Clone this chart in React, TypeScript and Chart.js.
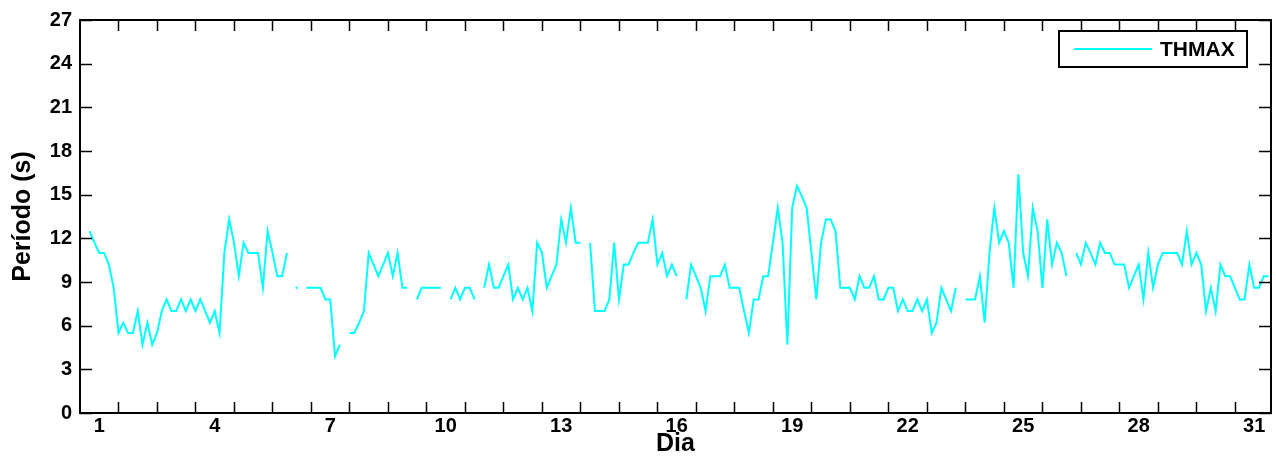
import React, { useEffect, useRef } from "react";
import { Chart, registerables } from "chart.js";

Chart.register(...registerables);

// Days of the month and 3-hourly observation hours
const DAYS = [1, 2, 3, 4, 5, 6, 7, 8, 9, 10, 11, 12, 13, 14, 15, 16, 17, 18, 19, 20, 21, 22, 23, 24, 25, 26, 27, 28, 29, 30, 31];
const HOURS = [0, 3, 6, 9, 12, 15, 18, 21];

// THMAX period (s), one row per day, one value per 3-hour slot (null = missing)
const THMAX: (number | null)[][] = [
  [10.2, null, 12.5, 11.7, 11.0, 11.0, 10.2, 8.6],
  [5.5, 6.2, 5.5, 5.5, 7.0, 4.7, 6.2, 4.7],
  [5.5, 7.0, 7.8, 7.0, 7.0, 7.8, 7.0, 7.8],
  [7.0, 7.8, 7.0, 6.2, 7.0, 5.5, 11.0, 13.3],
  [11.7, 9.4, 11.7, 11.0, 11.0, 11.0, 8.6, 12.5],
  [11.0, 9.4, 9.4, 11.0, null, 8.6, null, 8.6],
  [8.6, 8.6, 8.6, 7.8, 7.8, 3.9, 4.7, null],
  [5.5, 5.5, 6.2, 7.0, 11.0, 10.2, 9.4, 10.2],
  [11.0, 9.4, 11.0, 8.6, 8.6, null, 7.8, 8.6],
  [8.6, 8.6, 8.6, 8.6, null, 7.8, 8.6, 7.8],
  [8.6, 8.6, 7.8, null, 8.6, 10.2, 8.6, 8.6],
  [9.4, 10.2, 7.8, 8.6, 7.8, 8.6, 7.0, 11.7],
  [11.0, 8.6, 9.4, 10.2, 13.3, 11.7, 14.1, 11.7],
  [11.7, null, 11.7, 7.0, 7.0, 7.0, 7.8, 11.7],
  [7.8, 10.2, 10.2, 11.0, 11.7, 11.7, 11.7, 13.3],
  [10.2, 11.0, 9.4, 10.2, 9.4, null, 7.8, 10.2],
  [9.4, 8.6, 7.0, 9.4, 9.4, 9.4, 10.2, 8.6],
  [8.6, 8.6, 7.0, 5.5, 7.8, 7.8, 9.4, 9.4],
  [11.7, 14.1, 11.7, 4.7, 14.1, 15.6, 14.9, 14.1],
  [11.0, 7.8, 11.7, 13.3, 13.3, 12.5, 8.6, 8.6],
  [8.6, 7.8, 9.4, 8.6, 8.6, 9.4, 7.8, 7.8],
  [8.6, 8.6, 7.0, 7.8, 7.0, 7.0, 7.8, 7.0],
  [7.8, 5.5, 6.2, 8.6, 7.8, 7.0, 8.6, null],
  [7.8, 7.8, 7.8, 9.4, 6.2, 11.0, 14.1, 11.7],
  [12.5, 11.7, 8.6, 16.4, 11.0, 9.4, 14.1, 12.5],
  [8.6, 13.3, 10.2, 11.7, 11.0, 9.4, null, 11.0],
  [10.2, 11.7, 11.0, 10.2, 11.7, 11.0, 11.0, 10.2],
  [10.2, 10.2, 8.6, 9.4, 10.2, 7.8, 11.0, 8.6],
  [10.2, 11.0, 11.0, 11.0, 11.0, 10.2, 12.5, 10.2],
  [11.0, 10.2, 7.0, 8.6, 7.0, 10.2, 9.4, 9.4],
  [8.6, 7.8, 7.8, 10.2, 8.6, 8.6, 9.4, 9.4],
];

const X_TICKS = [1, 4, 7, 10, 13, 16, 19, 22, 25, 28, 31];
const Y_TICKS = [0, 3, 6, 9, 12, 15, 18, 21, 24, 27];
const SERIES_LABEL = "THMAX";
const X_TITLE = "Dia";
const Y_TITLE = "Período (s)";

const FONT_FAMILY = "'Liberation Sans', Arial, Helvetica, sans-serif";
const LINE_COLOR = "#00FFFF";

const matlabAxes = {
  id: "matlabAxes",
  afterDraw(chart: any) {
    const { ctx, chartArea } = chart;
    const { left, right, top, bottom } = chartArea;
    const xs = chart.scales.x;
    const ys = chart.scales.y;
    ctx.save();
    ctx.strokeStyle = "#000";
    ctx.lineWidth = 1.5;
    const tl = 11;
    // inward ticks at day boundaries (midnights)
    DAYS.forEach((d) => {
      const px = Math.round(xs.getPixelForValue(d - 0.5)) + 0.5;
      if (px > left + 2 && px < right - 2) {
        ctx.beginPath();
        ctx.moveTo(px, bottom);
        ctx.lineTo(px, bottom - tl);
        ctx.moveTo(px, top);
        ctx.lineTo(px, top + tl);
        ctx.stroke();
      }
    });
    Y_TICKS.forEach((v) => {
      const py = Math.round(ys.getPixelForValue(v)) + 0.5;
      ctx.beginPath();
      ctx.moveTo(left, py);
      ctx.lineTo(left + tl + 1, py);
      ctx.moveTo(right, py);
      ctx.lineTo(right - tl - 1, py);
      ctx.stroke();
    });
    // box
    ctx.lineWidth = 2;
    ctx.strokeRect(left, top, right - left, bottom - top);

    // legend
    const bx = right - 212;
    const by = top + 11;
    const bw = 188;
    const bh = 36;
    ctx.fillStyle = "#fff";
    ctx.fillRect(bx, by, bw, bh);
    ctx.lineWidth = 2;
    ctx.strokeStyle = "#000";
    ctx.strokeRect(bx, by, bw, bh);
    ctx.strokeStyle = LINE_COLOR;
    ctx.lineWidth = 2;
    ctx.beginPath();
    ctx.moveTo(bx + 15, by + 18);
    ctx.lineTo(bx + 93, by + 18);
    ctx.stroke();
    ctx.fillStyle = "#000";
    ctx.font = `bold 21px ${FONT_FAMILY}`;
    ctx.textBaseline = "middle";
    ctx.textAlign = "left";
    ctx.fillText(chart.data.datasets[0].label, bx + 101, by + 19);
    ctx.restore();
  },
};

export default function App() {
  const canvasRef = useRef<HTMLCanvasElement | null>(null);

  useEffect(() => {
    const canvas = canvasRef.current;
    if (!canvas) return;
    const points = DAYS.flatMap((d, di) =>
      HOURS.map((h, hi) => ({ x: d - 0.5 + h / 24, y: THMAX[di][hi] }))
    );
    const tickFont = { family: FONT_FAMILY, size: 20, weight: "bold" as const };
    const titleFont = { family: FONT_FAMILY, size: 25, weight: "bold" as const };
    const chart = new Chart(canvas, {
      type: "line",
      data: {
        datasets: [
          {
            label: SERIES_LABEL,
            data: points as any,
            borderColor: LINE_COLOR,
            backgroundColor: LINE_COLOR,
            borderWidth: 2,
            spanGaps: false,
            tension: 0,
            clip: 2,
            pointRadius: (c: any) => {
              const d = c.dataset.data;
              const i = c.dataIndex;
              const cur = d[i];
              if (!cur || cur.y == null) return 0;
              const prev = i > 0 ? d[i - 1].y : null;
              const next = i < d.length - 1 ? d[i + 1].y : null;
              return prev == null && next == null ? 1.2 : 0;
            },
            pointBorderWidth: 0,
            pointHoverRadius: 0,
          },
        ],
      },
      options: {
        animation: false,
        responsive: false,
        devicePixelRatio: 1,
        parsing: false as any,
        normalized: true,
        layout: { padding: { top: 15, right: 5, left: 0, bottom: 0 } },
        plugins: {
          legend: { display: false },
          tooltip: { enabled: false },
          title: { display: false },
        },
        scales: {
          x: {
            type: "linear",
            min: 0.5,
            max: 31.4375,
            grid: { display: false, drawTicks: false },
            border: { display: false },
            afterBuildTicks: (s: any) => {
              s.ticks = X_TICKS.map((v) => ({ value: v }));
            },
            afterFit: (s: any) => {
              s.height = 46;
            },
            ticks: {
              autoSkip: false,
              maxRotation: 0,
              minRotation: 0,
              color: "#000",
              font: tickFont,
              padding: 1,
              callback: (v: any) => String(v),
            },
            title: {
              display: true,
              text: X_TITLE,
              color: "#000",
              font: titleFont,
              padding: { top: 0, bottom: 0 },
            },
          },
          y: {
            type: "linear",
            min: 0,
            max: 27,
            grid: { display: false, drawTicks: false },
            border: { display: false },
            afterBuildTicks: (s: any) => {
              s.ticks = Y_TICKS.map((v) => ({ value: v }));
            },
            afterFit: (s: any) => {
              s.width = 80;
            },
            ticks: {
              color: "#000",
              font: tickFont,
              padding: 8,
              callback: (v: any) => String(v),
            },
            title: {
              display: true,
              text: Y_TITLE,
              color: "#000",
              font: titleFont,
              padding: { top: 8, bottom: 0 },
            },
          },
        },
      },
      plugins: [matlabAxes],
    });
    return () => chart.destroy();
  }, []);

  return (
    <div style={{ position: "absolute", left: 0, top: 0, width: 1276, height: 459, background: "#fff" }}>
      <canvas ref={canvasRef} width={1276} height={459} style={{ width: 1276, height: 459, display: "block" }} />
    </div>
  );
}
